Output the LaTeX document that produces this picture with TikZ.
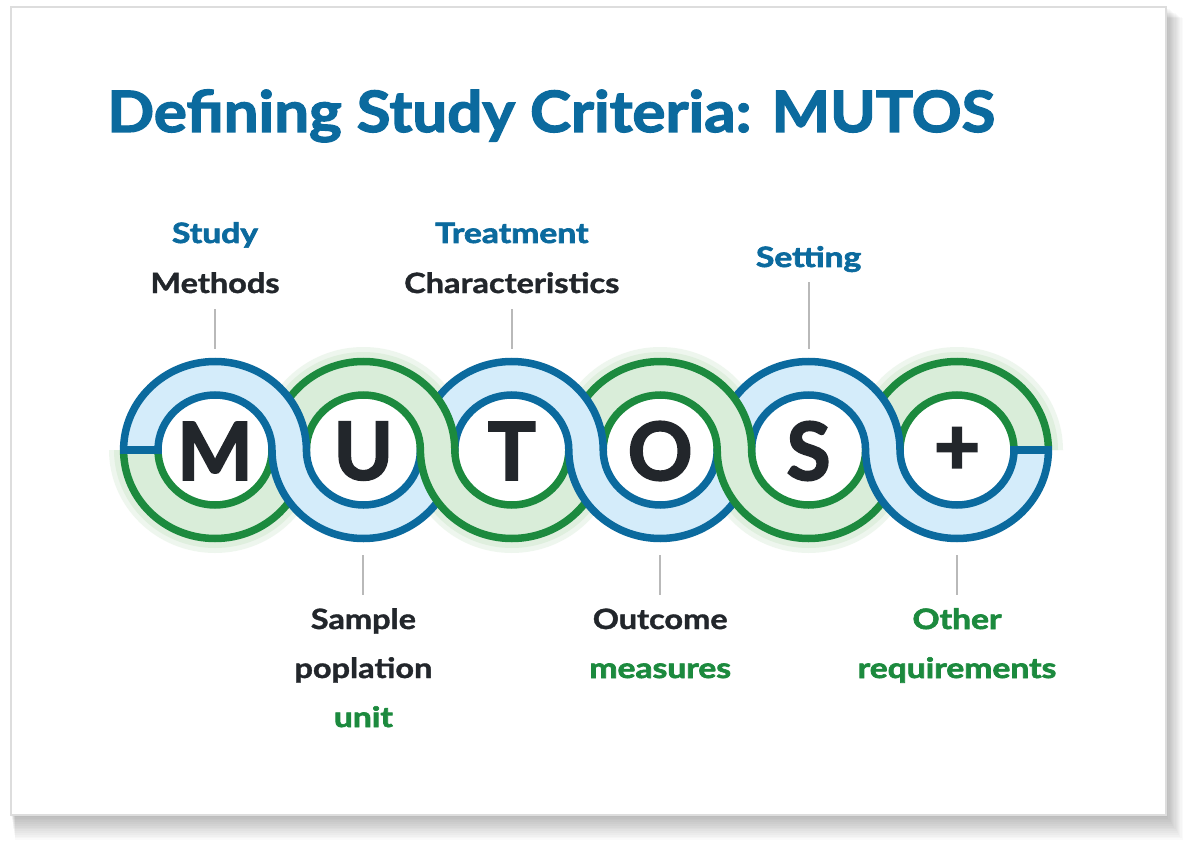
\documentclass[tikz,border=0pt]{standalone}
\usepackage{fontspec}
\setmainfont{Lato}
\newfontfamily\heavyfont{Lato}[BoldFeatures={FakeBold=2.5}]
\newfontfamily\labfont{Lato}[BoldFeatures={FakeBold=1.2}]
\newfontfamily\keyfont{Lato}[BoldFeatures={FakeBold=2.2}]
\definecolor{mblue}{HTML}{0B6A9E}
\definecolor{mlblue}{HTML}{D4ECFA}
\definecolor{mgreen}{HTML}{1C8A3E}
\definecolor{mlgreen}{HTML}{D9EDD9}
\definecolor{mglow}{HTML}{DFEFDE}
\definecolor{mdark}{HTML}{22262B}
\definecolor{mgray}{HTML}{B9B9B9}
\definecolor{cardline}{HTML}{DDDDDD}
\newcommand{\RXo}{91.4}
\newcommand{\RYo}{88.5}
\newcommand{\RXi}{57}
\newcommand{\RYi}{55}
\newcommand{\CY}{-450}
\newcommand{\plainw}[1]{\scalebox{1.16}[1]{#1}}
\newcommand{\keyw}[1]{\scalebox{1.2}[1]{#1}}
\newcommand{\topseg}[3]{%
 \fill[#2] ({#1+\RXo},\CY) arc[start angle=0,end angle=180,x radius=\RXo,y radius=\RYo] -- ({#1-\RXi},\CY) arc[start angle=180,end angle=0,x radius=\RXi,y radius=\RYi] -- cycle;
 \draw[ringline,#3] ({#1+\RXo},\CY) arc[start angle=0,end angle=180,x radius=\RXo,y radius=\RYo];
 \draw[ringline,#3] ({#1+\RXi},\CY) arc[start angle=0,end angle=180,x radius=\RXi,y radius=\RYi];}
\newcommand{\botseg}[3]{%
 \fill[#2] ({#1-\RXo},\CY) arc[start angle=180,end angle=360,x radius=\RXo,y radius=\RYo] -- ({#1+\RXi},\CY) arc[start angle=360,end angle=180,x radius=\RXi,y radius=\RYi] -- cycle;
 \draw[ringline,#3] ({#1-\RXo},\CY) arc[start angle=180,end angle=360,x radius=\RXo,y radius=\RYo];
 \draw[ringline,#3] ({#1-\RXi},\CY) arc[start angle=180,end angle=360,x radius=\RXi,y radius=\RYi];}
\newcommand{\glowtop}[1]{%
 \fill[mglow,opacity=.5] ({#1+106},\CY) arc[start angle=0,end angle=180,x radius=106,y radius=103] -- cycle;
 \fill[mglow] ({#1+101},\CY) arc[start angle=0,end angle=180,x radius=101,y radius=98] -- cycle;}
\newcommand{\glowbot}[1]{%
 \fill[mglow,opacity=.5] ({#1-106},\CY) arc[start angle=180,end angle=360,x radius=106,y radius=103] -- cycle;
 \fill[mglow] ({#1-101},\CY) arc[start angle=180,end angle=360,x radius=101,y radius=98] -- cycle;}
\begin{document}
\begin{tikzpicture}[x=1pt,y=1pt,
  ringline/.style={line width=7.5pt,line cap=butt},
  leader/.style={mgray,line width=2pt},
  lab/.style={font=\labfont\bfseries\fontsize{28}{30}\selectfont,anchor=base,inner sep=0pt},
  keylab/.style={font=\keyfont\bfseries\fontsize{28}{30}\selectfont,anchor=base,inner sep=0pt},
  bigletter/.style={font=\heavyfont\bfseries\fontsize{80}{80}\selectfont,text=mdark,anchor=center,inner sep=0pt},
  innerdisk/.style={fill=white}]
\useasboundingbox (0,0) rectangle (1188,-842);
\fill[white] (0,0) rectangle (1188,-842);
% card shadow
\foreach \i in {1,...,14}{\fill[black,opacity=0.018] ({11+\i*0.3},{-7-\i*0.8}) rectangle ({1166+\i*1.2},{-815-\i*1.8});}
\filldraw[fill=white,draw=cardline,line width=1.3pt] (11,-7) rectangle (1166,-815);
% title
\node[font=\keyfont\bfseries\fontsize{57}{60}\selectfont,text=mblue,anchor=base west,inner sep=0pt] (title) at (107,-132) {\scalebox{1.085}[1]{Defining Study Criteria: MUTOS}};
% glows of the green band
\glowbot{215}
\glowtop{363.4}
\glowbot{511.8}
\glowtop{660.2}
\glowbot{808.6}
\glowtop{957}
% inner white disks
\foreach \cx in {215,363.4,511.8,660.2,808.6,957}{\fill[innerdisk] (\cx,\CY) ellipse[x radius=\RXi,y radius=\RYi];}
% top halves, right to left
\topseg{957}{mlgreen}{mgreen}
\topseg{808.6}{mlblue}{mblue}
\topseg{660.2}{mlgreen}{mgreen}
\topseg{511.8}{mlblue}{mblue}
\topseg{363.4}{mlgreen}{mgreen}
\topseg{215}{mlblue}{mblue}
% bottom halves, left to right
\botseg{215}{mlgreen}{mgreen}
\botseg{363.4}{mlblue}{mblue}
\botseg{511.8}{mlgreen}{mgreen}
\botseg{660.2}{mlblue}{mblue}
\botseg{808.6}{mlgreen}{mgreen}
\botseg{957}{mlblue}{mblue}
% end seams
\coordinate (seamLa) at ({215-\RXo-3.75},\CY);
\coordinate (seamLb) at ({215-\RXi+3.75},\CY);
\coordinate (seamRa) at ({957+\RXi-3.75},\CY);
\coordinate (seamRb) at ({957+\RXo+3.75},\CY);
\draw[ringline,mblue] (seamLa) -- (seamLb);
\draw[ringline,mblue] (seamRa) -- (seamRb);
% letters
\node[bigletter] (M) at (215,-451) {M};
\node[bigletter] (U) at (363.4,-451) {U};
\node[bigletter] (T) at (511.8,-451) {T};
\node[bigletter] (O) at (660.2,-451) {O};
\node[bigletter] (S) at (808.6,-451) {S};
\node[bigletter] (P) at (957,-451) {+};
% labels above
\node[keylab,text=mblue] (study) at (215,-243) {\keyw{Study}};
\node[lab,text=mdark] (methods) at (215,-293) {\plainw{Methods}};
\node[keylab,text=mblue] (treat) at (511.8,-243) {\keyw{Treatment}};
\node[lab,text=mdark] (charac) at (511.8,-293) {\plainw{Characteristics}};
\node[keylab,text=mblue] (setting) at (808.6,-267) {\keyw{Setting}};
% labels below
\node[lab,text=mdark] (sample) at (363.4,-629) {\plainw{Sample}};
\node[lab,text=mdark] (popl) at (363.4,-678) {\plainw{poplation}};
\node[keylab,text=mgreen] (unit) at (363.4,-727) {\keyw{unit}};
\node[lab,text=mdark] (outcome) at (660.2,-629) {\plainw{Outcome}};
\node[keylab,text=mgreen] (measures) at (660.2,-678) {\keyw{measures}};
\node[keylab,text=mgreen] (other) at (957,-629) {\keyw{Other}};
\node[keylab,text=mgreen] (requir) at (957,-678) {\keyw{requirements}};
% leader lines
\coordinate (mA) at (215,-309); \coordinate (mB) at (215,-349);
\coordinate (tA) at (511.8,-309); \coordinate (tB) at (511.8,-349);
\coordinate (sA) at (808.6,-282); \coordinate (sB) at (808.6,-349);
\coordinate (uA) at (363.4,-555); \coordinate (uB) at (363.4,-595);
\coordinate (oA) at (660.2,-555); \coordinate (oB) at (660.2,-595);
\coordinate (pA) at (957,-555); \coordinate (pB) at (957,-595);
\draw[leader] (mA) -- (mB);
\draw[leader] (tA) -- (tB);
\draw[leader] (sA) -- (sB);
\draw[leader] (uA) -- (uB);
\draw[leader] (oA) -- (oB);
\draw[leader] (pA) -- (pB);
\end{tikzpicture}
\end{document}
